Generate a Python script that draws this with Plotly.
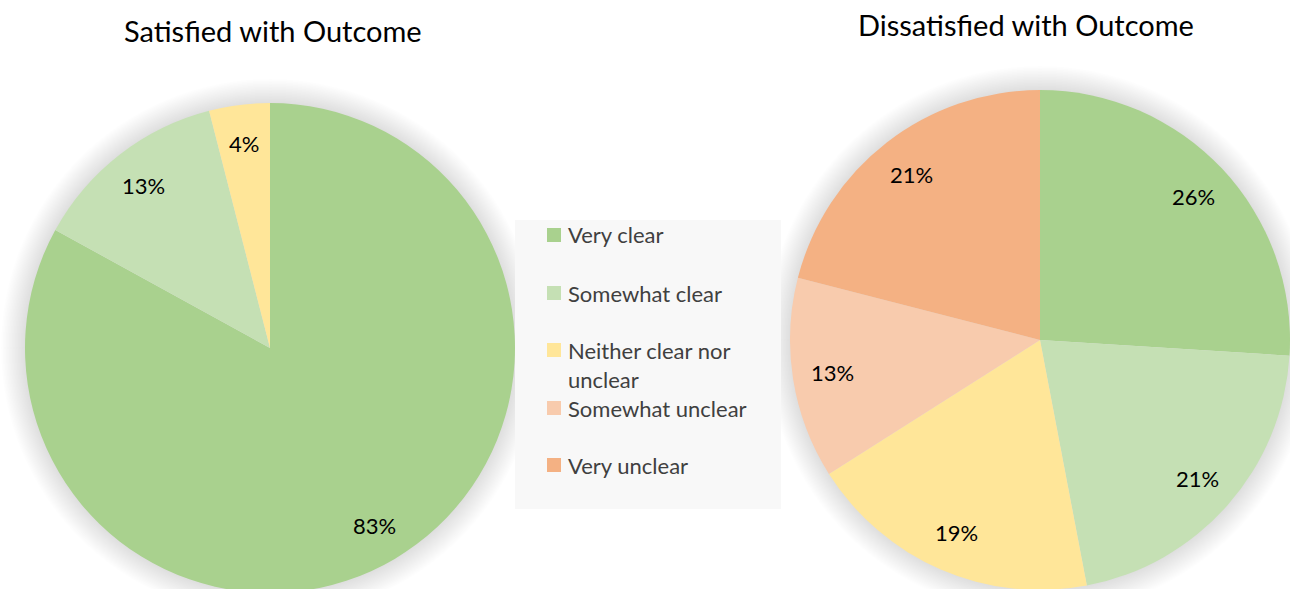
import numpy as np
import plotly.graph_objects as go

# figure a little taller than the window so the pies can run off the bottom edge
W, H = 1290, 600

categories = ['Very clear', 'Somewhat clear', 'Neither clear nor unclear',
              'Somewhat unclear', 'Very unclear']
legend_text = ['Very clear', 'Somewhat clear', 'Neither clear nor<br>unclear',
               'Somewhat unclear', 'Very unclear']
colors = ['#a9d18e', '#c5e0b4', '#ffe699', '#f8cbad', '#f4b183']

satisfied = [83, 13, 4, 0, 0]
dissatisfied = [26, 21, 19, 13, 21]

FONT = 'Lato'


def px_x(x):
    return x / W


def px_y(y):
    return 1 - y / H


def pie_trace(values, cx, cy, r):
    return go.Pie(
        labels=categories,
        values=values,
        sort=False,
        direction='clockwise',
        rotation=0,
        marker=dict(colors=colors),
        textinfo='none',
        domain=dict(x=[px_x(cx - r), px_x(cx + r)], y=[px_y(cy + r), px_y(cy - r)]),
        showlegend=False,
        hoverinfo='label+percent',
    )


pies = [(satisfied, 270, 348, 245), (dissatisfied, 1040, 340, 250)]

fig = go.Figure()
shapes = []
annotations = []

for values, cx, cy, r in pies:
    fig.add_trace(pie_trace(values, cx, cy, r))

    # soft shadow round the pie
    for k in range(1, 17):
        d = k * 1.5
        shapes.append(dict(type='circle', xref='paper', yref='paper', layer='below',
                           x0=px_x(cx - r - d), x1=px_x(cx + r + d),
                           y0=px_y(cy + r + d), y1=px_y(cy - r - d),
                           fillcolor='rgba(0,0,0,0.009)', line=dict(width=0)))

    # percentage labels, placed near the outer part of each slice
    vals = np.array(values, dtype=float)
    frac = vals / vals.sum()
    mid = np.cumsum(frac) - frac / 2
    ang = mid * 2 * np.pi
    for v, a in zip(values, ang):
        if v == 0:
            continue
        rr = r * 0.84
        annotations.append(dict(text=f'{v}%', x=px_x(cx + rr * np.sin(a)), y=px_y(cy - rr * np.cos(a)),
                                xref='paper', yref='paper', showarrow=False,
                                xanchor='center', yanchor='middle',
                                font=dict(family=FONT, size=22, color='#000000')))

# legend box
shapes.append(dict(type='rect', xref='paper', yref='paper', layer='below',
                   x0=px_x(515), x1=px_x(781), y0=px_y(509), y1=px_y(220),
                   fillcolor='#f8f8f8', line=dict(width=0)))

annotations += [
    dict(text='Satisfied with Outcome', x=px_x(273), y=px_y(30), xref='paper', yref='paper',
         showarrow=False, xanchor='center', yanchor='middle',
         font=dict(family=FONT, size=29, color='#000000')),
    dict(text='Dissatisfied with Outcome', x=px_x(1026), y=px_y(24), xref='paper', yref='paper',
         showarrow=False, xanchor='center', yanchor='middle',
         font=dict(family=FONT, size=29, color='#000000')),
]

legend_rows = [235, 293, 350, 408, 465]
for label, col, yc in zip(legend_text, colors, legend_rows):
    shapes.append(dict(type='rect', xref='paper', yref='paper',
                       x0=px_x(547), x1=px_x(561), y0=px_y(yc + 7), y1=px_y(yc - 7),
                       fillcolor=col, line=dict(width=0)))
    n_lines = label.count('<br>') + 1
    annotations.append(dict(text=label, x=px_x(566), y=px_y(yc + (n_lines - 1) * 15),
                            xref='paper', yref='paper',
                            showarrow=False, xanchor='left', yanchor='middle', align='left',
                            font=dict(family=FONT, size=22, color='#404040')))

fig.update_layout(
    width=W, height=H,
    margin=dict(l=0, r=0, t=0, b=0),
    paper_bgcolor='white',
    plot_bgcolor='white',
    shapes=shapes,
    annotations=annotations,
)

# figure flush with the window corner, no scrollbars, no modebar
fig.write_html('out.html', config={'displayModeBar': False},
               post_script="document.body.style.margin='0';document.body.style.overflow='hidden';")
